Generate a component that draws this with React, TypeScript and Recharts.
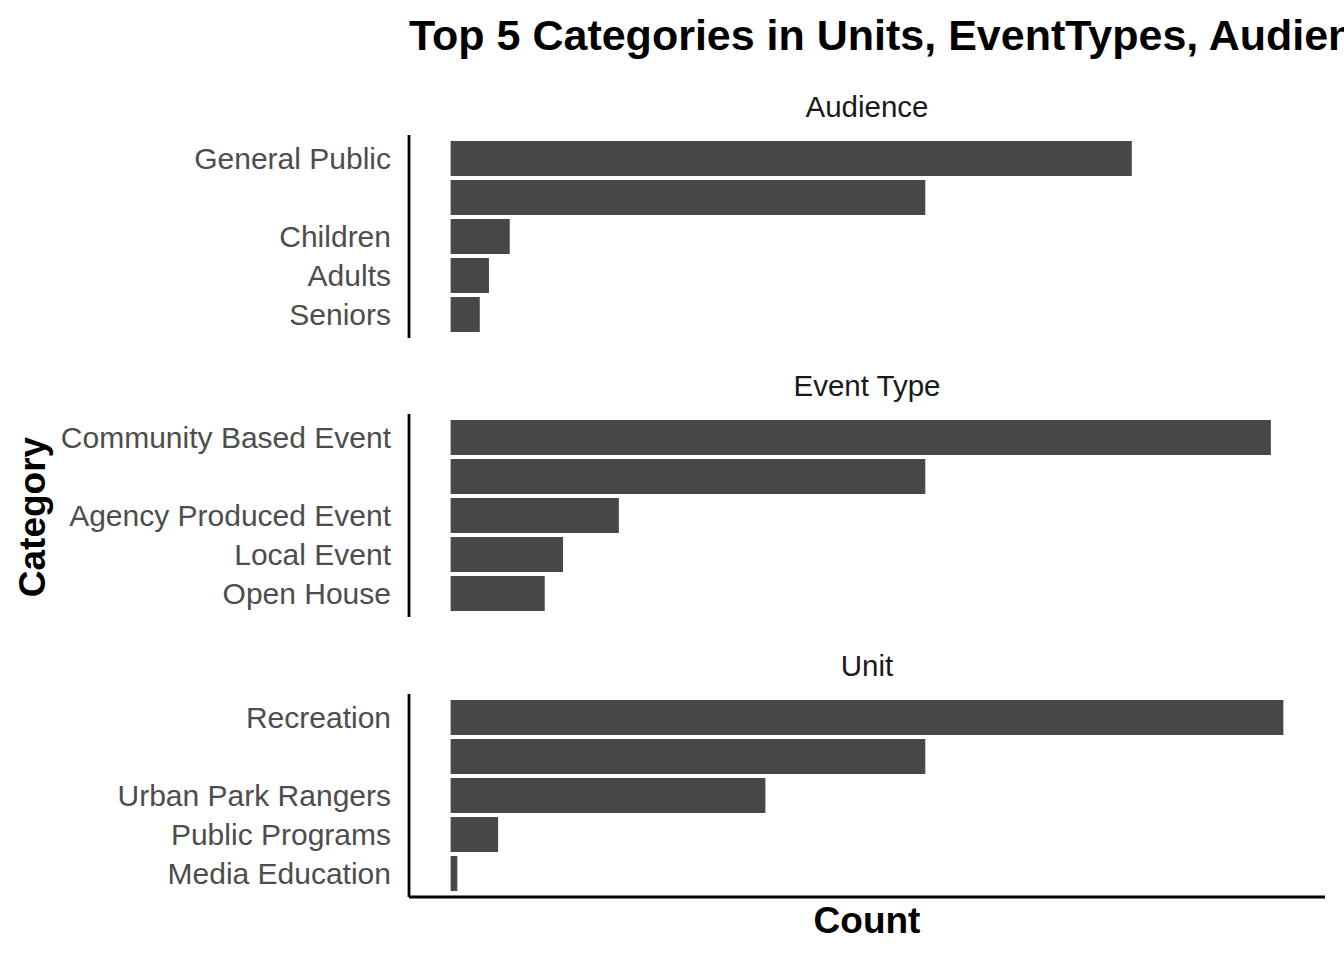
import React from "react";
import { BarChart, Bar, XAxis, YAxis } from "recharts";

const audienceCategories = ["General Public", "", "Children", "Adults", "Seniors"];
const audienceCounts = [818, 570, 71, 46, 35];

const eventTypeCategories = ["Community Based Event", "", "Agency Produced Event", "Local Event", "Open House"];
const eventTypeCounts = [985, 570, 202, 135, 113];

const unitCategories = ["Recreation", "", "Urban Park Rangers", "Public Programs", "Media Education"];
const unitCounts = [1000, 570, 378, 57, 8];

const facetLabels = ["Audience", "Event Type", "Unit"];
const countDomain: [number, number] = [-50, 1050];

const W = 1344;
const H = 960;
const PLOT_LEFT = 409;
const PLOT_RIGHT = 1325;
const PANEL_H = 203;
const panelTops = [135, 414, 694];
const BAR_COLOR = "#474747";
const FONT = "'Liberation Sans', Arial, Helvetica, sans-serif";

const build = (cats: string[], vals: number[]) =>
  cats.map((c, i) => ({ category: c, count: vals[i], key: `${i}` }));

const panels = [
  build(audienceCategories, audienceCounts),
  build(eventTypeCategories, eventTypeCounts),
  build(unitCategories, unitCounts),
];

function Panel({ data, top, last }: { data: any[]; top: number; last: boolean }) {
  const xAxisH = last ? 2 : 0;
  return (
    <div style={{ position: "absolute", left: 0, top, width: W, height: PANEL_H + xAxisH }}>
      <BarChart
        width={W}
        height={PANEL_H + xAxisH}
        data={data}
        layout="vertical"
        margin={{ top: 0, right: W - PLOT_RIGHT, bottom: 0, left: 0 }}
      >
        <XAxis
          type="number"
          dataKey="count"
          domain={countDomain}
          hide={!last}
          height={xAxisH}
          tick={false}
          tickLine={false}
          axisLine={{ stroke: "#000", strokeWidth: 2.8 }}
        />
        <YAxis
          type="category"
          dataKey="key"
          width={PLOT_LEFT}
          padding={{ top: 4, bottom: 4 }}
          tickLine={false}
          tickSize={0}
          tickMargin={18}
          tickFormatter={(v: string) => data[Number(v)].category}
          axisLine={{ stroke: "#000", strokeWidth: 2.8 }}
          tick={{ fill: "#4d4d4d", fontSize: 30, fontFamily: FONT }}
          interval={0}
        />
        <Bar dataKey="count" fill={BAR_COLOR} barSize={35} isAnimationActive={false} />
      </BarChart>
    </div>
  );
}

export default function App() {
  const center = (PLOT_LEFT + PLOT_RIGHT) / 2;
  return (
    <div
      style={{
        position: "absolute",
        left: 0,
        top: 0,
        width: W,
        height: H,
        overflow: "hidden",
        background: "#fff",
        fontFamily: FONT,
      }}
    >
      {panels.map((d, i) => (
        <Panel key={i} data={d} top={panelTops[i]} last={i === panels.length - 1} />
      ))}
      <svg
        width={W}
        height={H}
        style={{ position: "absolute", left: 0, top: 0, pointerEvents: "none" }}
      >
        <text x={PLOT_LEFT} y={50} fontSize={43} fontWeight="bold" fill="#000" fontFamily={FONT}>
          Top 5 Categories in Units, EventTypes, Audience
        </text>
        {facetLabels.map((l, i) => (
          <text
            key={l}
            x={center}
            y={panelTops[i] - 18}
            fontSize={29.5}
            fill="#1a1a1a"
            textAnchor="middle"
            fontFamily={FONT}
          >
            {l}
          </text>
        ))}
        <text x={center} y={933} fontSize={37} fontWeight="bold" textAnchor="middle" fill="#000" fontFamily={FONT}>
          Count
        </text>
        <text
          x={0}
          y={0}
          transform="translate(45,517) rotate(-90)"
          fontSize={37}
          fontWeight="bold"
          textAnchor="middle"
          fill="#000"
          fontFamily={FONT}
        >
          Category
        </text>
      </svg>
    </div>
  );
}
